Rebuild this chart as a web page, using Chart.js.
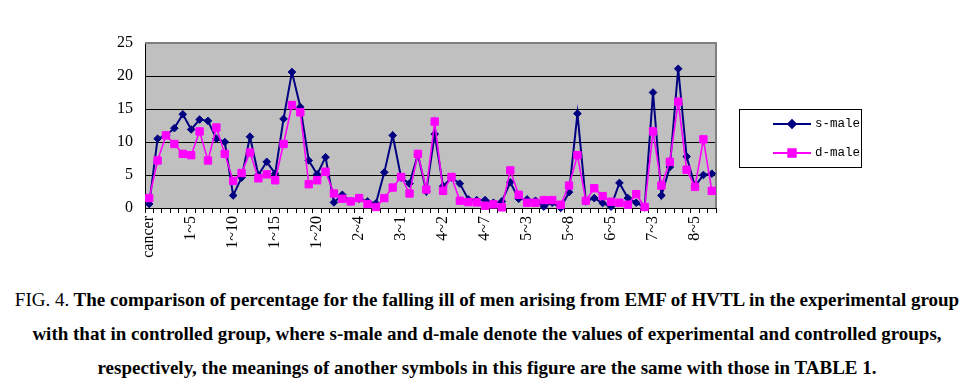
<!DOCTYPE html>
<html>
<head>
<meta charset="utf-8">
<script src="https://cdn.jsdelivr.net/npm/chart.js@4.4.0/dist/chart.umd.min.js"></script>
<style>
  body { margin: 0; background: #fff; width: 974px; height: 391px; overflow: hidden; position: relative; }
  #chart { position: absolute; left: 0; top: 0; }
  .caption {
    position: absolute; left: 0; top: 283px; width: 974px;
    text-align: center; white-space: nowrap;
    font-family: "Liberation Serif", "Times New Roman", serif;
    font-size: 19px; line-height: 34px; font-weight: bold; color: #000;
  }
  .caption .fig { font-weight: normal; }
</style>
</head>
<body>
<canvas id="chart" width="974" height="280"></canvas>
<div class="caption">
  <span class="fig">FIG. 4.</span> The comparison of percentage for the falling ill of men arising from EMF of HVTL in the experimental group<br>
  with that in controlled group, where s-male and d-male denote the values of experimental and controlled groups,<br>
  respectively, the meanings of another symbols in this figure are the same with those in TABLE 1.
</div>
<script>
// only every fifth category name is printed on the axis
const categories = [
  'cancer', '', '', '', '', '1~5', '', '', '', '', '1~10', '', '', '', '', '1~15', '', '', '', '',
  '1~20', '', '', '', '', '2~4', '', '', '', '', '3~1', '', '', '', '', '4~2', '', '', '', '',
  '4~7', '', '', '', '', '5~3', '', '', '', '', '5~8', '', '', '', '', '6~5', '', '', '', '',
  '7~3', '', '', '', '', '8~5', '', ''
];

const sMale = [
  0.6, 10.5, 11.0, 12.1, 14.2, 11.9, 13.4, 13.2, 10.5, 10.0,
  1.9, 4.6, 10.8, 5.0, 7.0, 5.2, 13.5, 20.6, 15.3, 7.2,
  5.1, 7.7, 0.85, 2.0, 1.0, 1.4, 1.0, 0.7, 5.4, 11.0,
  4.6, 3.7, 8.1, 2.5, 11.2, 3.3, 4.6, 3.7, 1.3, 1.2,
  1.2, 0.8, 1.0, 3.9, 1.4, 1.3, 1.1, 0.2, 0.8, 0.0,
  2.4, 14.3, 1.0, 1.5, 0.75, 0.2, 3.8, 1.5, 0.8, 0.1,
  17.5, 1.9, 6.2, 21.1, 7.8, 3.3, 5.0, 5.2
];

const dMale = [
  1.5, 7.2, 11.0, 9.7, 8.2, 8.0, 11.6, 7.2, 12.2, 8.2,
  4.1, 5.3, 8.4, 4.5, 5.1, 4.2, 9.7, 15.6, 14.5, 3.6,
  4.2, 5.5, 2.2, 1.4, 1.0, 1.5, 0.6, 0.15, 1.5, 3.1,
  4.7, 2.2, 8.2, 2.8, 13.1, 2.6, 4.7, 1.1, 0.9, 0.85,
  0.35, 0.55, 0.1, 5.7, 2.0, 0.8, 0.8, 1.2, 1.2, 0.5,
  3.4, 8.0, 1.1, 3.0, 1.8, 0.95, 0.8, 0.5, 2.1, 0.15,
  11.6, 3.4, 7.0, 16.1, 5.8, 3.2, 10.4, 2.6
];

const yTicks = [0, 5, 10, 15, 20, 25];

const serif = { family: '"Liberation Serif", "Times New Roman", serif', size: 16 };

// grey plot area, grey top/right edges, boxed legend on the right
const frame = {
  id: 'frame',
  beforeDraw(chart) {
    const { ctx, chartArea: a } = chart;
    ctx.save();
    ctx.fillStyle = '#c0c0c0';
    ctx.fillRect(a.left, a.top, a.right - a.left, a.bottom - a.top);
    ctx.restore();
  },
  beforeDatasetsDraw(chart) {
    const { ctx, chartArea: a } = chart;
    ctx.save();
    ctx.strokeStyle = '#808080';
    ctx.lineWidth = 2;
    ctx.beginPath();
    ctx.moveTo(a.left, a.top);
    ctx.lineTo(a.right, a.top);
    ctx.lineTo(a.right, a.bottom);
    ctx.stroke();
    ctx.restore();
  },
  afterDraw(chart) {
    const ctx = chart.ctx;
    ctx.save();
    ctx.strokeStyle = '#000';
    ctx.lineWidth = 1;
    ctx.strokeRect(739.5, 109.5, 122, 58);
    ctx.font = '12.5px "Liberation Mono", "DejaVu Sans Mono", monospace';
    ctx.textBaseline = 'middle';
    chart.data.datasets.forEach((ds, i) => {
      const y = 124 + i * 29;
      ctx.strokeStyle = ds.borderColor;
      ctx.lineWidth = 2;
      ctx.beginPath();
      ctx.moveTo(773, y);
      ctx.lineTo(811, y);
      ctx.stroke();
      Chart.helpers.drawPoint(ctx, {
        pointStyle: ds.pointStyle, radius: ds.pointRadius, rotation: 0, borderWidth: 1
      }, 792, y);
      ctx.fillStyle = ds.pointBackgroundColor;
      ctx.fill();
      ctx.fillStyle = '#000';
      ctx.fillText(ds.label, 815, y);
    });
    ctx.restore();
  }
};

new Chart(document.getElementById('chart'), {
  type: 'line',
  data: {
    labels: categories,
    datasets: [
      {
        label: 's-male', data: sMale, order: 2,
        borderColor: '#000080', backgroundColor: '#000080',
        pointBackgroundColor: '#000080', pointBorderColor: '#000080',
        borderWidth: 2, pointStyle: 'rectRot', pointRadius: 3.8, pointBorderWidth: 1,
        tension: 0, clip: false
      },
      {
        label: 'd-male', data: dMale, order: 1,
        borderColor: '#ff00ff', backgroundColor: '#ff00ff',
        pointBackgroundColor: '#ff00ff', pointBorderColor: '#ff00ff',
        borderWidth: 1.6, pointStyle: 'rect', pointRadius: 5.2, pointBorderWidth: 1,
        tension: 0, clip: false
      }
    ]
  },
  options: {
    responsive: false,
    animation: false,
    layout: { padding: { left: 0, right: 258, top: 43, bottom: 0 } },
    plugins: { legend: { display: false }, tooltip: { enabled: false } },
    scales: {
      x: {
        offset: true,
        grid: { offset: true, drawOnChartArea: false, drawTicks: true, tickLength: 5, color: '#000', lineWidth: 1 },
        border: { color: '#000', width: 1 },
        ticks: { autoSkip: false, maxRotation: 90, minRotation: 90, padding: 3, color: '#000', font: serif },
        afterFit(s) { s.height = 72; }
      },
      y: {
        min: 0, max: 25,
        afterBuildTicks(s) { s.ticks = yTicks.map(v => ({ value: v })); },
        grid: {
          drawTicks: false, lineWidth: 1,
          color: c => (c.tick.value > 0 && c.tick.value < 25) ? '#000' : 'rgba(0,0,0,0)'
        },
        border: { color: '#000', width: 1 },
        ticks: { padding: 12, color: '#000', font: serif },
        afterFit(s) { s.width = 145; }
      }
    }
  },
  plugins: [frame]
});
</script>
</body>
</html>
